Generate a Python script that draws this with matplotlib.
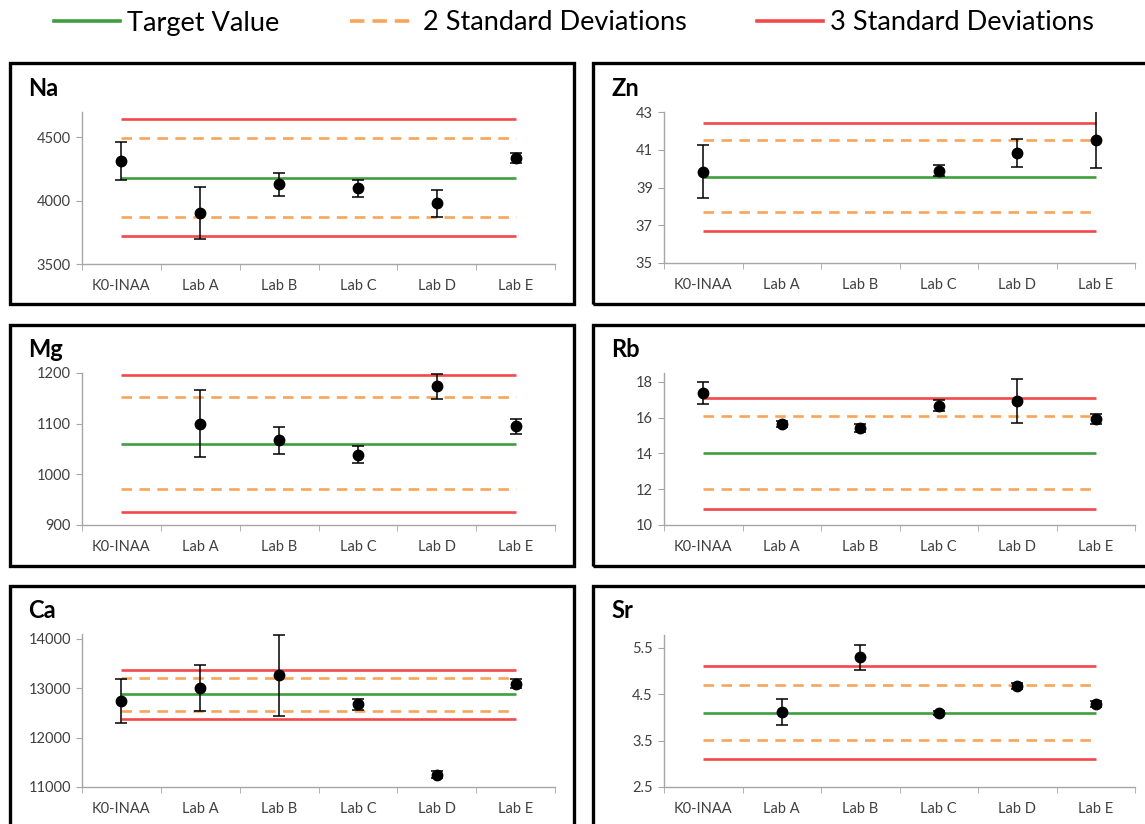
import matplotlib
matplotlib.use("Agg")
import matplotlib.pyplot as plt
from matplotlib.lines import Line2D
from matplotlib.patches import Rectangle
import numpy as np

plt.rcParams['font.family'] = ['Lato', 'DejaVu Sans']

labs = ["K0-INAA", "Lab A", "Lab B", "Lab C", "Lab D", "Lab E"]

# lines: target, -2sd, +2sd, -3sd, +3sd
na_values = [4316, 3900, 4129, 4097, 3979, 4337]
na_errors = [150, 205, 90, 70, 105, 36]
na_lines = [4182, 3874, 4495, 3718, 4645]
na_ticks = [3500, 4000, 4500]

zn_values = [39.83, np.nan, np.nan, 39.90, 40.83, 41.53]
zn_errors = [1.40, np.nan, np.nan, 0.28, 0.74, 1.52]
zn_lines = [39.56, 37.69, 41.53, 36.69, 42.44]
zn_ticks = [35, 37, 39, 41, 43]

mg_values = [np.nan, 1100, 1067, 1039, 1174, 1095]
mg_errors = [np.nan, 66, 27, 17, 25, 15]
mg_lines = [1060, 971, 1152, 926, 1197]
mg_ticks = [900, 1000, 1100, 1200]

rb_values = [17.40, 15.65, 15.43, 16.66, 16.94, 15.93]
rb_errors = [0.61, 0.15, 0.21, 0.31, 1.25, 0.28]
rb_lines = [14.04, 12.00, 16.11, 10.91, 17.12]
rb_ticks = [10, 12, 14, 16, 18]

ca_values = [12741, 13000, 13265, 12673, 11252, 13095]
ca_errors = [452, 466, 820, 105, 72, 85]
ca_lines = [12878, 12537, 13204, 12381, 13374]
ca_ticks = [11000, 12000, 13000, 14000]

sr_values = [np.nan, 4.11, 5.30, 4.10, 4.69, 4.29]
sr_errors = [np.nan, 0.28, 0.27, 0.045, 0.065, 0.06]
sr_lines = [4.10, 3.51, 4.71, 3.11, 5.11]
sr_ticks = [2.5, 3.5, 4.5, 5.5]

GREEN = "#3f9f3f"
ORANGE = "#f8a55a"
RED = "#f2484a"
AXIS = "#a6a6a6"
TEXT = "#404040"

W, H = 1145, 824
fig = plt.figure(figsize=(W / 100, H / 100), dpi=100)


def px_axes(left, right, top, bottom):
    return fig.add_axes([left / W, 1 - bottom / H, (right - left) / W, (bottom - top) / H])


def panel(name, box, ax_px, values, errors, lines, ticks, ylim, fmt):
    bx0, by0, bx1, by1 = box
    fig.patches.append(Rectangle((bx0 / W, 1 - by1 / H), (bx1 - bx0) / W, (by1 - by0) / H,
                                 transform=fig.transFigure, fill=False,
                                 edgecolor="black", linewidth=2.4, zorder=0))
    fig.text((bx0 + 18) / W, 1 - (by0 + 25) / H, name, fontsize=17, fontweight="bold",
             va="center", ha="left")

    ax = px_axes(*ax_px)
    n = len(labs)
    x = np.arange(n)
    target, lo2, hi2, lo3, hi3 = lines
    ax.hlines([lo3, hi3], 0, n - 1, color=RED, linewidth=1.9, zorder=2)
    ax.hlines([lo2, hi2], 0, n - 1, color=ORANGE, linewidth=1.9,
              linestyles=(0, (4, 2.8)), zorder=2)
    ax.hlines(target, 0, n - 1, color=GREEN, linewidth=1.9, zorder=2)
    ax.errorbar(x, values, yerr=errors, fmt="o", color="black", markersize=7.5,
                ecolor="black", elinewidth=1.1, capsize=4, capthick=1.1, zorder=3)

    ax.set_xlim(-0.5, n - 0.5)
    ax.set_ylim(*ylim)
    ax.set_yticks(ticks)
    ax.set_yticklabels([fmt.format(t) for t in ticks])
    ax.set_xticks(x)
    ax.set_xticklabels(labs)
    ax.set_xticks(np.arange(n + 1) - 0.5, minor=True)
    ax.tick_params(axis="x", which="major", length=0, pad=11, labelsize=10.5, labelcolor=TEXT)
    ax.tick_params(axis="x", which="minor", length=4, color=AXIS, direction="out")
    ax.tick_params(axis="y", length=4, color=AXIS, direction="out", pad=4,
                   labelsize=10.5, labelcolor=TEXT)
    for s in ["top", "right"]:
        ax.spines[s].set_visible(False)
    for s in ["left", "bottom"]:
        ax.spines[s].set_color(AXIS)
        ax.spines[s].set_linewidth(1.0)
    ax.patch.set_alpha(0)
    return ax


panel("Na", (10, 63, 574, 304), (82, 555, 112, 264),
      na_values, na_errors, na_lines, na_ticks, (3500, 4700), "{:d}")
panel("Zn", (593, 63, 1160, 304), (664, 1135, 112, 263),
      zn_values, zn_errors, zn_lines, zn_ticks, (35, 43), "{:d}")
panel("Mg", (10, 325, 574, 566), (82, 555, 373, 525),
      mg_values, mg_errors, mg_lines, mg_ticks, (900, 1200), "{:d}")
panel("Rb", (593, 325, 1160, 566), (664, 1135, 373, 525),
      rb_values, rb_errors, rb_lines, rb_ticks, (10, 18.5), "{:d}")
panel("Ca", (10, 586, 574, 840), (82, 555, 634, 787),
      ca_values, ca_errors, ca_lines, ca_ticks, (11000, 14100), "{:d}")
panel("Sr", (593, 586, 1160, 840), (664, 1135, 635, 787),
      sr_values, sr_errors, sr_lines, sr_ticks, (2.5, 5.78), "{:.1f}")

handles = [
    Line2D([], [], color=GREEN, linewidth=2.6),
    Line2D([], [], color=ORANGE, linewidth=2.6, linestyle=(0, (4, 2.2))),
    Line2D([], [], color=RED, linewidth=2.6),
]
fig.legend(handles, ["Target Value", "2 Standard Deviations", "3 Standard Deviations"],
           loc="center", bbox_to_anchor=(574 / W, 1 - 23 / H), ncol=3, frameon=False,
           fontsize=19.5, handlelength=2.45, handletextpad=0.25, columnspacing=2.6)

fig.savefig("out.png", dpi=100)
